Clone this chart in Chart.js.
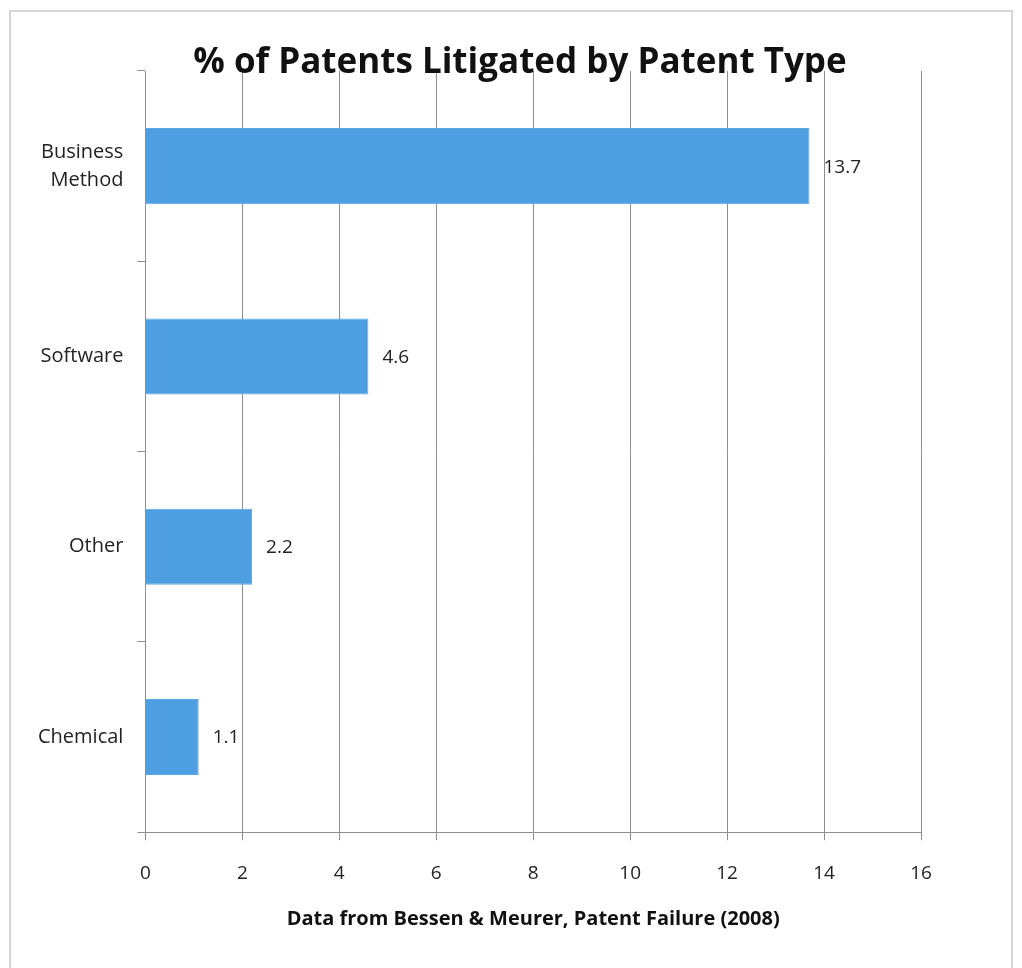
<!DOCTYPE html>
<html>
<head>
<meta charset="utf-8">
<script src="https://cdn.jsdelivr.net/npm/chart.js@4/dist/chart.umd.min.js"></script>
<style>
  html, body { margin: 0; padding: 0; background: #fff; }
  #frame { position: absolute; left: 9px; top: 10px; width: 1004px; height: 990px; border: 2px solid #d6d6d6; box-sizing: border-box; }
  #wrap { position: absolute; left: 0; top: 0; width: 1022px; height: 968px; }
</style>
</head>
<body>
<div id="frame"></div>
<div id="wrap"><canvas id="patentChart"></canvas></div>
<script>
// data
const categories = [["Business", "Method"], "Software", "Other", "Chemical"];
const litigatedPct = [13.7, 4.6, 2.2, 1.1];
const xMin = 0, xMax = 16, xStep = 2;

const chartTitle = "% of Patents Litigated by Patent Type";
const xTitle = "Data from Bessen & Meurer, Patent Failure (2008)";

const FONT = '"Open Sans", "Noto Sans", sans-serif';
const gridColor = "#8e8e8e";

// value labels to the right of each bar
const valueLabels = {
  id: "valueLabels",
  afterDatasetsDraw(chart) {
    const ctx = chart.ctx;
    const meta = chart.getDatasetMeta(0);
    ctx.save();
    ctx.font = "19px " + FONT;
    ctx.fillStyle = "#222";
    ctx.textAlign = "left";
    ctx.textBaseline = "middle";
    meta.data.forEach((bar, i) => {
      ctx.fillText(String(litigatedPct[i]), bar.x + 14, bar.y + 1);
    });
    ctx.restore();
  }
};

// title sits partly over the top of the grid, so draw it ourselves
const topTitle = {
  id: "topTitle",
  afterDraw(chart) {
    const ctx = chart.ctx;
    ctx.save();
    ctx.font = "bold 35px " + FONT;
    ctx.fillStyle = "#111";
    ctx.textAlign = "center";
    ctx.textBaseline = "alphabetic";
    ctx.fillText(chartTitle, 520, 73);
    ctx.restore();
  }
};

const ctx = document.getElementById("patentChart").getContext("2d");
new Chart(ctx, {
  type: "bar",
  data: {
    labels: categories,
    datasets: [{
      data: litigatedPct,
      backgroundColor: "#4d9fe2",
      borderColor: "#5aa8e6",
      borderWidth: 1,
      barPercentage: 0.4,
      categoryPercentage: 1.0
    }]
  },
  options: {
    indexAxis: "y",
    responsive: true,
    maintainAspectRatio: false,
    animation: false,
    layout: { padding: { left: 24, right: 101, top: 71, bottom: 37 } },
    plugins: {
      legend: { display: false },
      title: { display: false },
      tooltip: { enabled: false }
    },
    scales: {
      x: {
        min: xMin,
        max: xMax,
        ticks: { stepSize: xStep, color: "#222", font: { family: FONT, size: 19 }, padding: 22 },
        grid: { color: gridColor, lineWidth: 1, tickLength: 8 },
        border: { color: gridColor },
        title: {
          display: true,
          text: xTitle,
          color: "#111",
          font: { family: FONT, size: 20, weight: "bold" },
          padding: { top: 0, bottom: 0 }
        }
      },
      y: {
        ticks: { color: "#222", font: { family: FONT, size: 20, lineHeight: 1.4 }, padding: 14 },
        grid: { color: gridColor, drawOnChartArea: false, tickLength: 8 },
        border: { color: gridColor }
      }
    }
  },
  plugins: [valueLabels, topTitle]
});
</script>
</body>
</html>
